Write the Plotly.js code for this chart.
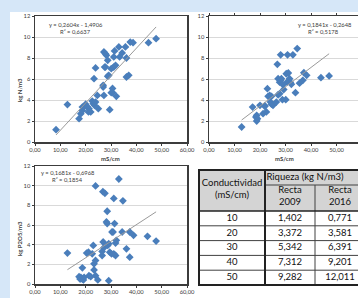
<!DOCTYPE html>
<html><head><meta charset="utf-8">
<script src="https://cdn.plot.ly/plotly-3.0.1.min.js"></script>
<style>html,body{margin:0;padding:0;background:#fff}#c{width:358px;height:298px}</style>
</head><body><div id="c"></div>
<script>
// ---- data ----
const x1=[8.3,12.8,17.4,18.1,18.7,18.7,19.4,20.0,20.7,21.3,22.0,21.1,22.6,23.0,23.5,23.9,24.6,25.0,23.3,23.9,26.9,26.9,27.2,27.5,27.2,27.8,28.2,28.7,27.8,28.7,29.1,29.5,30.1,30.7,30.1,31.1,31.8,31.1,31.4,32.1,33.1,33.4,34.4,35.7,36.1,36.1,37.0,37.6,38.7,44.8,47.8,30.6];
const y1=[1.17,3.56,2.22,2.7,3.0,3.33,3.4,3.6,3.33,3.17,2.86,2.86,3.9,3.65,3.5,3.8,4.44,3.17,6.03,7.05,5.24,5.4,4.44,7.14,8.57,8.41,8.25,7.78,7.14,6.25,6.35,3.08,4.7,4.7,6.98,7.14,7.3,8.1,8.67,4.35,9.05,8.1,8.48,9.05,8.0,6.19,6.35,9.52,9.46,9.46,9.84,5.1];
const x2=[12.8,17.1,18.4,18.7,18.7,19.0,20.0,21.2,21.9,22.5,21.9,22.9,23.2,23.8,24.5,24.1,24.5,25.1,26.4,27.1,26.8,28.1,27.7,27.1,27.7,28.1,28.4,28.8,29.3,30.1,30.8,32.9,30.3,31.1,31.6,31.9,32.3,34.6,33.9,35.5,36.8,37.2,38.3,43.9,47.1,30.6,29.0];
const y2=[1.43,3.33,2.38,2.54,2.0,2.22,3.49,2.7,3.46,2.86,3.4,5.08,4.35,4.44,4.35,3.8,3.6,3.49,3.8,4.5,7.4,8.3,4.6,6.03,5.7,5.87,6.03,4.03,5.0,4.03,8.3,8.3,6.5,6.57,6.03,5.7,5.5,8.9,4.7,5.6,5.87,6.6,6.35,6.13,6.29,5.7,5.46];
const x3=[12.8,18.7,17.4,18.1,18.7,19.4,17.8,19.1,20.4,21.1,21.3,22.0,22.6,23.0,23.3,23.9,23.3,23.9,24.8,23.9,26.5,26.5,26.9,27.2,26.8,27.6,28.5,28.2,28.5,28.7,29.1,29.1,29.5,30.2,30.8,31.1,31.4,31.8,31.8,32.1,31.1,33.1,34.4,34.7,36.1,37.4,37.4,38.9,44.4,47.8,30.4];
const y3=[3.14,1.64,0.75,0.68,0.51,0.68,0.51,0.41,3.14,3.24,0.85,0.75,3.07,3.92,2.05,2.39,1.43,0.85,0.41,9.97,3.31,2.9,4.27,3.69,9.39,9.22,7.4,6.31,6.14,3.92,4.1,0.34,3.24,3.07,5.29,8.7,6.14,4.16,2.9,4.44,3.07,10.68,5.29,8.46,3.58,5.29,2.73,4.95,4.85,4.37,5.29];
const slopes=[0.2604,0.1841,0.1681];
const intercepts=[-1.4906,-0.2648,-0.6968];
const eqTexts=["y = 0,2604x - 1,4906","y = 0,1841x - 0,2648","y = 0,1681x - 0,6968"];
const r2Texts=["R² = 0,6637","R² = 0,5178","R² = 0,1854"];
const xTickVals=[0,10,20,30,40,50,60];
const xTickText=["0,00","10,00","20,00","30,00","40,00","50,00","60,00"];
const yTickVals=[0,2,4,6,8,10,12];
const yTickText=["0","2","4","6","8","10","12"];
const headCond=["Conductividad","(mS/cm)"];
const headRiqueza="Riqueza (kg N/m3)";
const headRecta=[["Recta","2009"],["Recta","2016"]];
const conductividad=["10","20","30","40","50"];
const recta2009=["1,402","3,372","5,342","7,312","9,282"];
const recta2016=["0,771","3,581","6,391","9,201","12,011"];

// ---- layout helpers ----
const W=358,H=298;
const xd=(a,b)=>[a/W,Math.min(1,b/W)];
const yd=(t,b)=>[1-b/H,1-t/H];
const px=v=>v/W, py=v=>1-v/H;
const blue='#4a7ebb', dark='#3c3c3c';
const FAM='Lato, Liberation Sans, sans-serif';
const tickFont={family:FAM,size:5.8,color:'#404040'};

const xs=[x1,x2,x3], ys=[y1,y2,y3];
const axN=['','2','3'];
const traces=[];
for(let i=0;i<3;i++){
  traces.push({type:'scatter',mode:'markers',x:xs[i],y:ys[i],xaxis:'x'+axN[i],yaxis:'y'+axN[i],
    marker:{symbol:'diamond',size:6,color:blue},hoverinfo:'skip'});
  const lo=Math.min(...xs[i]),hi=Math.max(...xs[i]);
  traces.push({type:'scatter',mode:'lines',x:[lo,hi],y:[slopes[i]*lo+intercepts[i],slopes[i]*hi+intercepts[i]],
    xaxis:'x'+axN[i],yaxis:'y'+axN[i],line:{color:'#9a9a9a',width:1},hoverinfo:'skip'});
}

// ---- table on its own axes (units = pixels inside the table) ----
const colW=[66,50,50];           // column widths
const hRow1=15, hHead=41, rowH=14.8;
const colEdge=[0]; colW.forEach(w=>colEdge.push(colEdge[colEdge.length-1]+w));
const colC=colW.map((w,i)=>colEdge[i]+w/2);
const tFont={family:FAM,size:9.5,color:'#111'};
const tx=[],ty=[],tt=[];
// header texts
tx.push(colC[0],colC[0]); ty.push(14,26); tt.push(headCond[0],headCond[1]);
tx.push((colEdge[1]+colEdge[3])/2-10); ty.push(hRow1/2+0.5); tt.push(headRiqueza);
for(let c=0;c<2;c++){tx.push(colC[c+1],colC[c+1]); ty.push(21,33); tt.push(headRecta[c][0],headRecta[c][1]);}
// body
const cols=[conductividad,recta2009,recta2016];
cols.forEach((arr,c)=>arr.forEach((v,r)=>{tx.push(colC[c]);ty.push(hHead+rowH*(r+0.5));tt.push(v);}));
traces.push({type:'scatter',mode:'text',x:tx,y:ty,text:tt,textfont:tFont,textposition:'middle center',
  xaxis:'x4',yaxis:'y4',hoverinfo:'skip',cliponaxis:true});
const tableBottom=hHead+rowH*conductividad.length;
const sh=(o)=>Object.assign({xref:'x4',yref:'y4'},o);
const tshapes=[
  sh({type:'rect',x0:0,x1:colEdge[3],y0:0,y1:hHead,fillcolor:'#d4d4d4',line:{width:0},layer:'below'}),
  sh({type:'line',x0:colEdge[1],x1:colEdge[3],y0:hRow1,y1:hRow1,line:{color:'#404040',width:1}}),
  sh({type:'line',x0:colEdge[2],x1:colEdge[2],y0:hRow1,y1:tableBottom,line:{color:'#404040',width:1}})
];
for(let r=1;r<conductividad.length;r++) tshapes.push(sh({type:'line',x0:0,x1:colEdge[3],y0:hHead+rowH*r,y1:hHead+rowH*r,line:{color:'#404040',width:1}}));
tshapes.push(sh({type:'line',x0:0,x1:colEdge[3],y0:hHead,y1:hHead,line:{color:'#222',width:1.5}}));
tshapes.push(sh({type:'line',x0:colEdge[1],x1:colEdge[1],y0:0,y1:tableBottom,line:{color:'#222',width:2}}));
tshapes.push(sh({type:'rect',x0:0,x1:colEdge[3],y0:0,y1:tableBottom,line:{color:'#222',width:2}}));

function xaxis(dom,range){return {domain:dom,range:range,tickvals:xTickVals,ticktext:xTickText,tickfont:tickFont,
  showgrid:false,zeroline:false,showline:true,mirror:true,linecolor:dark,linewidth:1.5,ticks:'outside',ticklen:2,tickcolor:dark,fixedrange:true};}
function yaxis(dom,anchor,mirror){return {domain:dom,range:[0,12],tickvals:yTickVals,ticktext:yTickText,tickfont:tickFont,anchor:anchor,
  showgrid:true,gridcolor:'#d9d9d9',gridwidth:1,zeroline:false,showline:true,mirror:mirror,linecolor:dark,linewidth:1.5,ticks:'outside',ticklen:2,tickcolor:dark,fixedrange:true};}

const annFont={family:FAM,size:5.8,color:'#404040'};
const titleFont={family:FAM,size:6,color:'#404040',weight:'bold'};
const ann=(x,y,t,f,extra)=>Object.assign({xref:'paper',yref:'paper',x:px(x),y:py(y),text:t,showarrow:false,font:f,xanchor:'center',yanchor:'middle'},extra||{});
const annotations=[
  ann(75.5,24,eqTexts[0],annFont),ann(75,31,r2Texts[0],annFont),
  ann(324.5,24,eqTexts[1],annFont),ann(323,31,r2Texts[1],annFont),
  ann(68,172,eqTexts[2],annFont),ann(67,179,r2Texts[2],annFont),
  ann(110,158,'mS/cm',titleFont),ann(284,158,'mS/cm',titleFont),
  ann(19,90,'kg N/m3',titleFont,{textangle:-90}),
  ann(19,239,'kg P2O5/m3',titleFont,{textangle:-90})
];
const shapes=[
  {type:'rect',xref:'paper',yref:'paper',x0:0,x1:px(10),y0:0,y1:1,fillcolor:'#d6e7f8',line:{width:0},layer:'below'},
  {type:'rect',xref:'paper',yref:'paper',x0:0,x1:1,y0:py(12),y1:1,fillcolor:'#d6e7f8',line:{width:0},layer:'below'}
].concat(tshapes);
const hidden={visible:false,fixedrange:true,showgrid:false,zeroline:false};
const layout={width:W,height:H,margin:{l:0,r:0,t:0,b:0,autoexpand:false},paper_bgcolor:'#fff',plot_bgcolor:'rgba(0,0,0,0)',showlegend:false,
  xaxis:Object.assign(xaxis(xd(35,187),[0,60]),{anchor:'y'}),yaxis:yaxis(yd(16,142),'x',true),
  xaxis2:Object.assign(xaxis(xd(209,358),[0,60*149/153]),{anchor:'y2',mirror:'allticks'}),yaxis2:yaxis(yd(16,142),'x2',false),
  xaxis3:Object.assign(xaxis(xd(35,187),[0,60]),{anchor:'y3'}),yaxis3:yaxis(yd(166,284),'x3',true),
  xaxis4:Object.assign({domain:xd(197,358),range:[-2,159],anchor:'y4'},hidden),
  yaxis4:Object.assign({domain:yd(168,288),range:[118,-2],anchor:'x4'},hidden),
  annotations:annotations,shapes:shapes};
Plotly.newPlot('c',traces,layout,{staticPlot:true,displayModeBar:false});
</script></body></html>
